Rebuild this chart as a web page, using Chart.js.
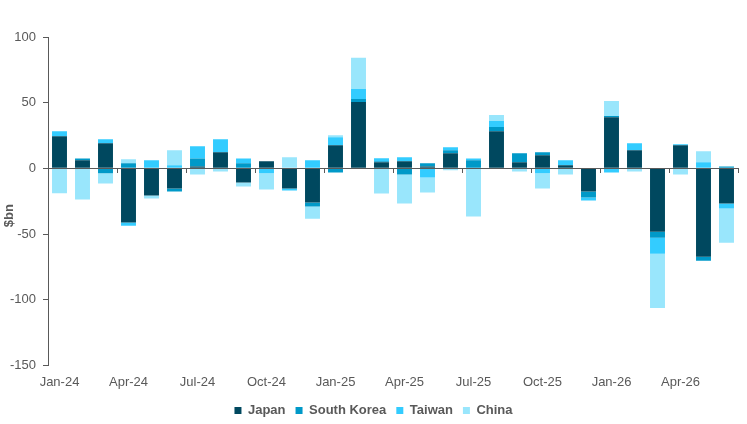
<!DOCTYPE html>
<html>
<head>
<meta charset="utf-8">
<script src="https://cdn.jsdelivr.net/npm/chart.js@4"></script>
<style>
  html, body { margin: 0; padding: 0; background: #fff; }
  #wrap { width: 747px; height: 424px; }
</style>
</head>
<body>
<div id="wrap"><canvas id="flowChart"></canvas></div>
<script>
// ========== DATA ==========
const months = [
  'Jan-24','Feb-24','Mar-24','Apr-24','May-24','Jun-24','Jul-24','Aug-24','Sep-24','Oct-24','Nov-24','Dec-24',
  'Jan-25','Feb-25','Mar-25','Apr-25','May-25','Jun-25','Jul-25','Aug-25','Sep-25','Oct-25','Nov-25','Dec-25',
  'Jan-26','Feb-26','Mar-26','Apr-26','May-26','Jun-26'
];

const japan = [
  24.5, 6.1, 19.1, -41.3, -20.7, -15.3, 1.5, 12.2, -10.7, 5.4, -15.3, -26,
  17.6, 50.5, 4.6, 5.4, 1.5, 11.5, 0, 28.3, 4.6, 9.9, 2.3, -17.6,
  39, 13.8, -48.2, 17.6, -67.3, -26.8
];
const southKorea = [
  0, 1.5, -3.8, 3.8, 0, -2.3, 6.1, 0, 3.8, 0, 0, -3.1,
  -3.1, 2.3, 0.8, -4.6, 2.3, 2.3, 6.1, 3.1, 6.9, 2.3, 0, -4.6,
  0.8, 0, -4.6, 0, -3.1, 1.5
];
const taiwan = [
  3.8, 0, 3.1, -2.3, 6.1, 2.3, 9.2, 9.9, 3.8, -3.8, -1.5, 6.1,
  6.1, 7.7, 2.3, 3.1, -6.9, 2.3, 1.5, 4.6, 0, -3.8, 3.8, -2.3,
  -3.1, 5.4, -12.2, 0.8, 4.6, -3.8
];
const china = [
  -19, -23.7, -7.7, 3.1, -2.3, 11.5, -4.6, -2.3, -3.1, -12.2, 8.4, -9.2,
  1.5, 23.7, -19.1, -22.2, -11.5, -1.5, -36.7, 4.6, -2.3, -11.5, -4.6, 0,
  11.5, -2.3, -41.3, -4.6, 8.4, -26
];

const TEXT = '#595959';
const AXIS = '#595959';

// ========== ZERO LINE + QUARTER TICKS ==========
const zeroTicks = {
  id: 'zeroTicks',
  afterDatasetsDraw(chart) {
    const { ctx, scales: { x, y } } = chart;
    const y0 = Math.round(y.getPixelForValue(0));
    ctx.save();
    ctx.strokeStyle = AXIS;
    ctx.lineWidth = 1;
    ctx.beginPath();
    ctx.moveTo(chart.chartArea.left, y0 + 0.5);
    ctx.lineTo(chart.chartArea.right, y0 + 0.5);
    ctx.stroke();
    // tick between quarters
    ctx.beginPath();
    for (let i = 3; i <= months.length; i += 3) {
      let px;
      if (i === months.length) px = chart.chartArea.right;
      else px = (x.getPixelForValue(i - 1) + x.getPixelForValue(i)) / 2;
      px = Math.round(px) + 0.5;
      ctx.moveTo(px, y0);
      ctx.lineTo(px, y0 + 5);
    }
    ctx.stroke();
    ctx.restore();
  }
};

// ========== CHART ==========
Chart.defaults.font.family = '"Liberation Sans", Arial, sans-serif';
Chart.defaults.color = TEXT;

const series = [
  { label: 'Japan', data: japan, color: '#00485F' },
  { label: 'South Korea', data: southKorea, color: '#0099C8' },
  { label: 'Taiwan', data: taiwan, color: '#33CCFF' },
  { label: 'China', data: china, color: '#99E6FC' }
];

new Chart(document.getElementById('flowChart'), {
  type: 'bar',
  data: {
    labels: months,
    datasets: series.map(s => ({
      label: s.label,
      data: s.data,
      backgroundColor: s.color,
      borderWidth: 0,
      categoryPercentage: 1,
      barPercentage: 0.65
    }))
  },
  options: {
    responsive: true,
    maintainAspectRatio: false,
    animation: false,
    layout: { padding: { top: 37, right: 0, left: 0, bottom: -3 } },
    plugins: {
      legend: {
        position: 'bottom',
        labels: {
          boxWidth: 7,
          boxHeight: 7,
          padding: 10,
          color: TEXT,
          font: { size: 13, weight: 'bold' }
        }
      },
      tooltip: { enabled: false }
    },
    scales: {
      x: {
        stacked: true,
        border: { display: false },
        grid: { display: false },
        afterFit: s => { s.height += 3; },
        ticks: {
          autoSkip: false,
          maxRotation: 0,
          color: TEXT,
          font: { size: 13 },
          padding: 1,
          callback: function (val, i) { return i % 3 === 0 ? months[i] : ''; }
        }
      },
      y: {
        stacked: true,
        min: -150,
        max: 100,
        afterFit: s => { s.width = 48; },
        border: { display: true, color: AXIS, width: 1 },
        grid: {
          drawOnChartArea: false,
          drawTicks: true,
          tickLength: 5,
          tickColor: AXIS
        },
        ticks: {
          stepSize: 50,
          color: TEXT,
          font: { size: 13 },
          padding: 7
        },
        title: {
          display: true,
          // trailing spaces nudge the label a little below the axis centre
          text: '$bn        ',
          color: TEXT,
          font: { size: 13, weight: 'bold' },
          padding: { top: 2, bottom: 0 }
        }
      },
      // empty right-hand gutter so the legend stays centred on the page
      gutter: {
        position: 'right',
        display: true,
        border: { display: false },
        grid: { display: false },
        ticks: { display: false },
        afterFit: s => { s.width = 9; }
      }
    }
  },
  plugins: [zeroTicks]
});
</script>
</body>
</html>
